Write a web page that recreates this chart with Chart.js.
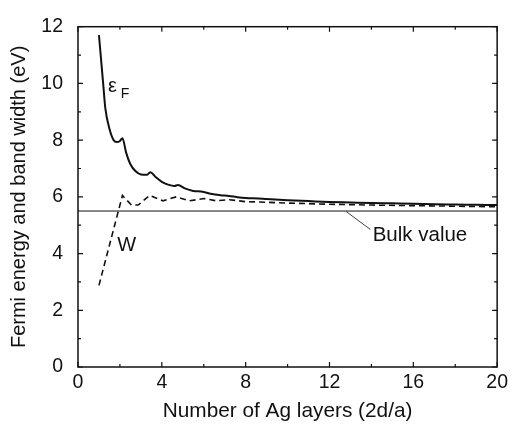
<!DOCTYPE html>
<html>
<head>
<meta charset="utf-8">
<script src="https://cdn.jsdelivr.net/npm/chart.js@4.4.0/dist/chart.umd.min.js"></script>
<style>
    html, body { margin: 0; padding: 0; background: #fff; }
    #wrap { width: 512px; height: 428px; position: relative; }
</style>
</head>
<body>
<div id="wrap"><canvas id="fermi-chart"></canvas></div>
<script>
// Fermi energy (solid) vs number of layers
const fermiLayers = [1.0, 1.1, 1.2, 1.3, 1.5, 1.7, 1.85, 2.0, 2.12, 2.3, 2.5, 2.75, 3.0, 3.3, 3.45,
    3.7, 4.0, 4.3, 4.6, 4.77, 5.1, 5.5, 5.95, 6.4, 6.8, 7.2, 7.6, 8.0, 8.6, 9.0,
    10, 11, 12, 13, 14, 15, 16, 17, 18, 19, 20];
const fermiEnergy = [11.7, 10.85, 10.0, 9.15, 8.4, 8.0, 7.93, 7.97, 8.07, 7.55, 7.15, 6.9, 6.79, 6.78, 6.87,
    6.7, 6.53, 6.43, 6.38, 6.42, 6.3, 6.21, 6.18, 6.1, 6.06, 6.03, 5.99, 5.96, 5.94, 5.92,
    5.88, 5.85, 5.82, 5.8, 5.78, 5.77, 5.76, 5.74, 5.73, 5.72, 5.71];

// Band width W (dashed)
const widthLayers = [1.0, 2.12, 2.55, 2.87, 3.42, 4.05, 4.69, 5.32, 6.03, 6.59, 7.22, 8.0, 8.65,
    10, 12, 14, 16, 18, 20];
const bandWidth = [2.88, 6.05, 5.71, 5.71, 6.05, 5.86, 6.0, 5.86, 5.94, 5.86, 5.9, 5.83, 5.82,
    5.78, 5.74, 5.71, 5.69, 5.67, 5.65];

// Bulk value reference line
const bulkLayers = [0, 20];
const bulkValue = [5.5, 5.5];

// Axis ticks
const xTicks = [0, 4, 8, 12, 16, 20];
const yTicks = [0, 2, 4, 6, 8, 10, 12];

const fontFamily = '"Liberation Sans", Arial, Helvetica, sans-serif';
const ink = '#111';

function toPoints(xs, ys) {
    return xs.map(function(x, i) { return { x: x, y: ys[i] }; });
}

// 1. Frame, inward ticks and text labels
const framePlugin = {
    id: 'frame',
    afterDatasetsDraw: function(chart) {
        const ctx = chart.ctx;
        const area = chart.chartArea;
        const xs = chart.scales.x;
        const ys = chart.scales.y;
        ctx.save();
        ctx.strokeStyle = ink;

        // ticks on all four sides
        ctx.lineWidth = 1.2;
        ctx.beginPath();
        for (let v = 0; v <= 20; v += 2) {
            const px = xs.getPixelForValue(v);
            const len = xTicks.indexOf(v) >= 0 ? 5 : 3;
            ctx.moveTo(px, area.bottom); ctx.lineTo(px, area.bottom - len);
            ctx.moveTo(px, area.top); ctx.lineTo(px, area.top + len);
        }
        for (let v = 0; v <= 12; v += 1) {
            const py = ys.getPixelForValue(v);
            const len = yTicks.indexOf(v) >= 0 ? 5 : 3;
            ctx.moveTo(area.left, py); ctx.lineTo(area.left + len, py);
            ctx.moveTo(area.right, py); ctx.lineTo(area.right - len, py);
        }
        ctx.stroke();

        // frame
        ctx.lineWidth = 1.5;
        ctx.strokeRect(area.left, area.top, area.right - area.left, area.bottom - area.top);

        // leader line for the bulk label
        ctx.lineWidth = 0.8;
        ctx.beginPath();
        ctx.moveTo(xs.getPixelForValue(12.8), ys.getPixelForValue(5.48));
        ctx.lineTo(xs.getPixelForValue(13.95), ys.getPixelForValue(4.85));
        ctx.stroke();

        // labels
        ctx.fillStyle = ink;
        ctx.textBaseline = 'alphabetic';
        ctx.textAlign = 'left';
        ctx.font = '20px ' + fontFamily;
        ctx.fillText('ε', xs.getPixelForValue(1.43), ys.getPixelForValue(9.71));
        ctx.fillText('W', xs.getPixelForValue(1.87), ys.getPixelForValue(4.09));
        ctx.font = '20.5px ' + fontFamily;
        ctx.fillText('Bulk value', xs.getPixelForValue(14.06), ys.getPixelForValue(4.46));
        ctx.font = '14px ' + fontFamily;
        ctx.fillText('F', xs.getPixelForValue(2.04), ys.getPixelForValue(9.5));
        ctx.restore();
    }
};

// 2. Chart
const ctx = document.getElementById('fermi-chart');
new Chart(ctx, {
    type: 'line',
    data: {
        datasets: [
            {
                label: 'Bulk value',
                data: toPoints(bulkLayers, bulkValue),
                borderColor: ink,
                borderWidth: 1,
                pointRadius: 0,
                tension: 0
            },
            {
                label: 'W',
                data: toPoints(widthLayers, bandWidth),
                borderColor: ink,
                borderWidth: 1.6,
                borderDash: [6, 4],
                pointRadius: 0,
                tension: 0
            },
            {
                label: 'Fermi energy',
                data: toPoints(fermiLayers, fermiEnergy),
                borderColor: ink,
                borderWidth: 2,
                pointRadius: 0,
                cubicInterpolationMode: 'monotone'
            }
        ]
    },
    options: {
        responsive: true,
        maintainAspectRatio: false,
        animation: false,
        layout: {
            padding: { top: 16, right: 12.5, left: 0, bottom: 0 }
        },
        plugins: {
            legend: { display: false },
            tooltip: { enabled: false }
        },
        scales: {
            x: {
                type: 'linear',
                min: 0,
                max: 20,
                grid: { display: false, drawTicks: false },
                border: { display: false },
                ticks: {
                    stepSize: 4,
                    padding: 4,
                    color: ink,
                    font: { family: fontFamily, size: 19.5 },
                    maxRotation: 0
                },
                title: {
                    display: true,
                    text: 'Number of Ag layers (2d/a)',
                    color: ink,
                    font: { family: fontFamily, size: 20.8 },
                    padding: { top: 0, bottom: 4 }
                },
                afterFit: function(scale) { scale.height = 61; }
            },
            y: {
                type: 'linear',
                min: 0,
                max: 12,
                grid: { display: false, drawTicks: false },
                border: { display: false },
                ticks: {
                    stepSize: 2,
                    padding: 15,
                    color: ink,
                    font: { family: fontFamily, size: 19.5 }
                },
                title: {
                    display: true,
                    text: 'Fermi energy and band width (eV)',
                    color: ink,
                    font: { family: fontFamily, size: 20 },
                    padding: { top: 7, bottom: 0 }
                },
                afterFit: function(scale) { scale.width = 78; }
            }
        }
    },
    plugins: [framePlugin]
});
</script>
</body>
</html>
